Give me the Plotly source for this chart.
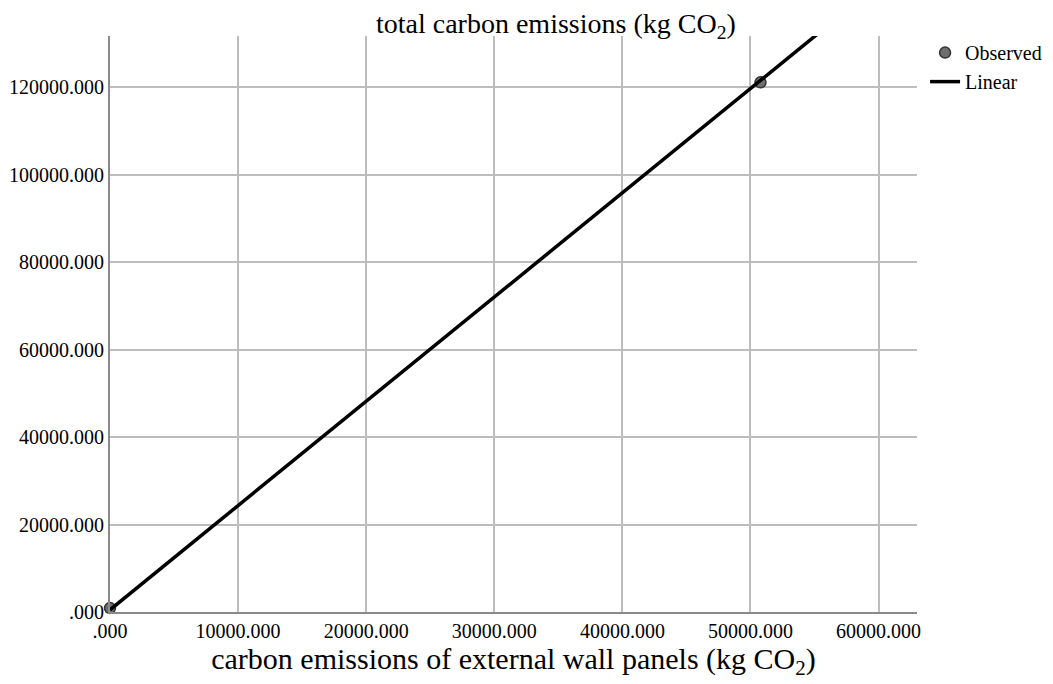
import plotly.graph_objects as go

# Data
obs_x = [0.0, 50780.0]
obs_y = [900.0, 121100.0]
lin_x = [0.0, 63000.0]
slope = 2.3836
intercept = 500.0
lin_y = [intercept + slope * v for v in lin_x]

x_ticks = [0, 10000, 20000, 30000, 40000, 50000, 60000]
x_labels = [".000", "10000.000", "20000.000", "30000.000", "40000.000", "50000.000", "60000.000"]
y_ticks = [0, 20000, 40000, 60000, 80000, 100000, 120000]
y_labels = [".000", "20000.000", "40000.000", "60000.000", "80000.000", "100000.000", "120000.000"]

font = "Liberation Serif, Times New Roman, serif"

fig = go.Figure()
fig.add_trace(go.Scatter(x=obs_x, y=obs_y, mode="markers", name="Observed",
                         marker=dict(size=11, color="#6e6e6e", line=dict(color="#333333", width=1.5)),
                         cliponaxis=False))
fig.add_trace(go.Scatter(x=lin_x, y=lin_y, mode="lines", name="Linear",
                         line=dict(color="black", width=3.5)))

fig.update_layout(
    width=1053, height=684,
    margin=dict(l=102, r=144, t=28, b=80, autoexpand=False),
    paper_bgcolor="white", plot_bgcolor="white",
    font=dict(family=font, size=20, color="black"),
    legend=dict(x=1.01, y=1.005, xanchor="left", yanchor="top",
                font=dict(size=20), tracegroupgap=0),
    showlegend=True,
)
fig.update_xaxes(range=[0, 63000], tickvals=x_ticks, ticktext=x_labels,
                 showgrid=True, gridcolor="#bdbdbd", gridwidth=1.5,
                 showline=True, linecolor="#8a8a8a", linewidth=2,
                 zeroline=False, ticks="", tickfont=dict(size=20),
                 title=dict(text="carbon emissions of external wall panels (kg CO<sub>2</sub>)",
                            font=dict(size=30), standoff=6))
fig.update_yaxes(range=[0, 131700], tickvals=y_ticks, ticktext=y_labels,
                 showgrid=True, gridcolor="#bdbdbd", gridwidth=1.5,
                 showline=True, linecolor="#8a8a8a", linewidth=2,
                 zeroline=False, ticks="", tickfont=dict(size=20))
fig.add_annotation(text="total carbon emissions (kg CO<sub>2</sub>)", x=0.553, y=1.0,
                   xref="paper", yref="paper", xanchor="center", yanchor="bottom",
                   showarrow=False, font=dict(size=28, family=font), yshift=-9)

fig.write_html("out.html")
